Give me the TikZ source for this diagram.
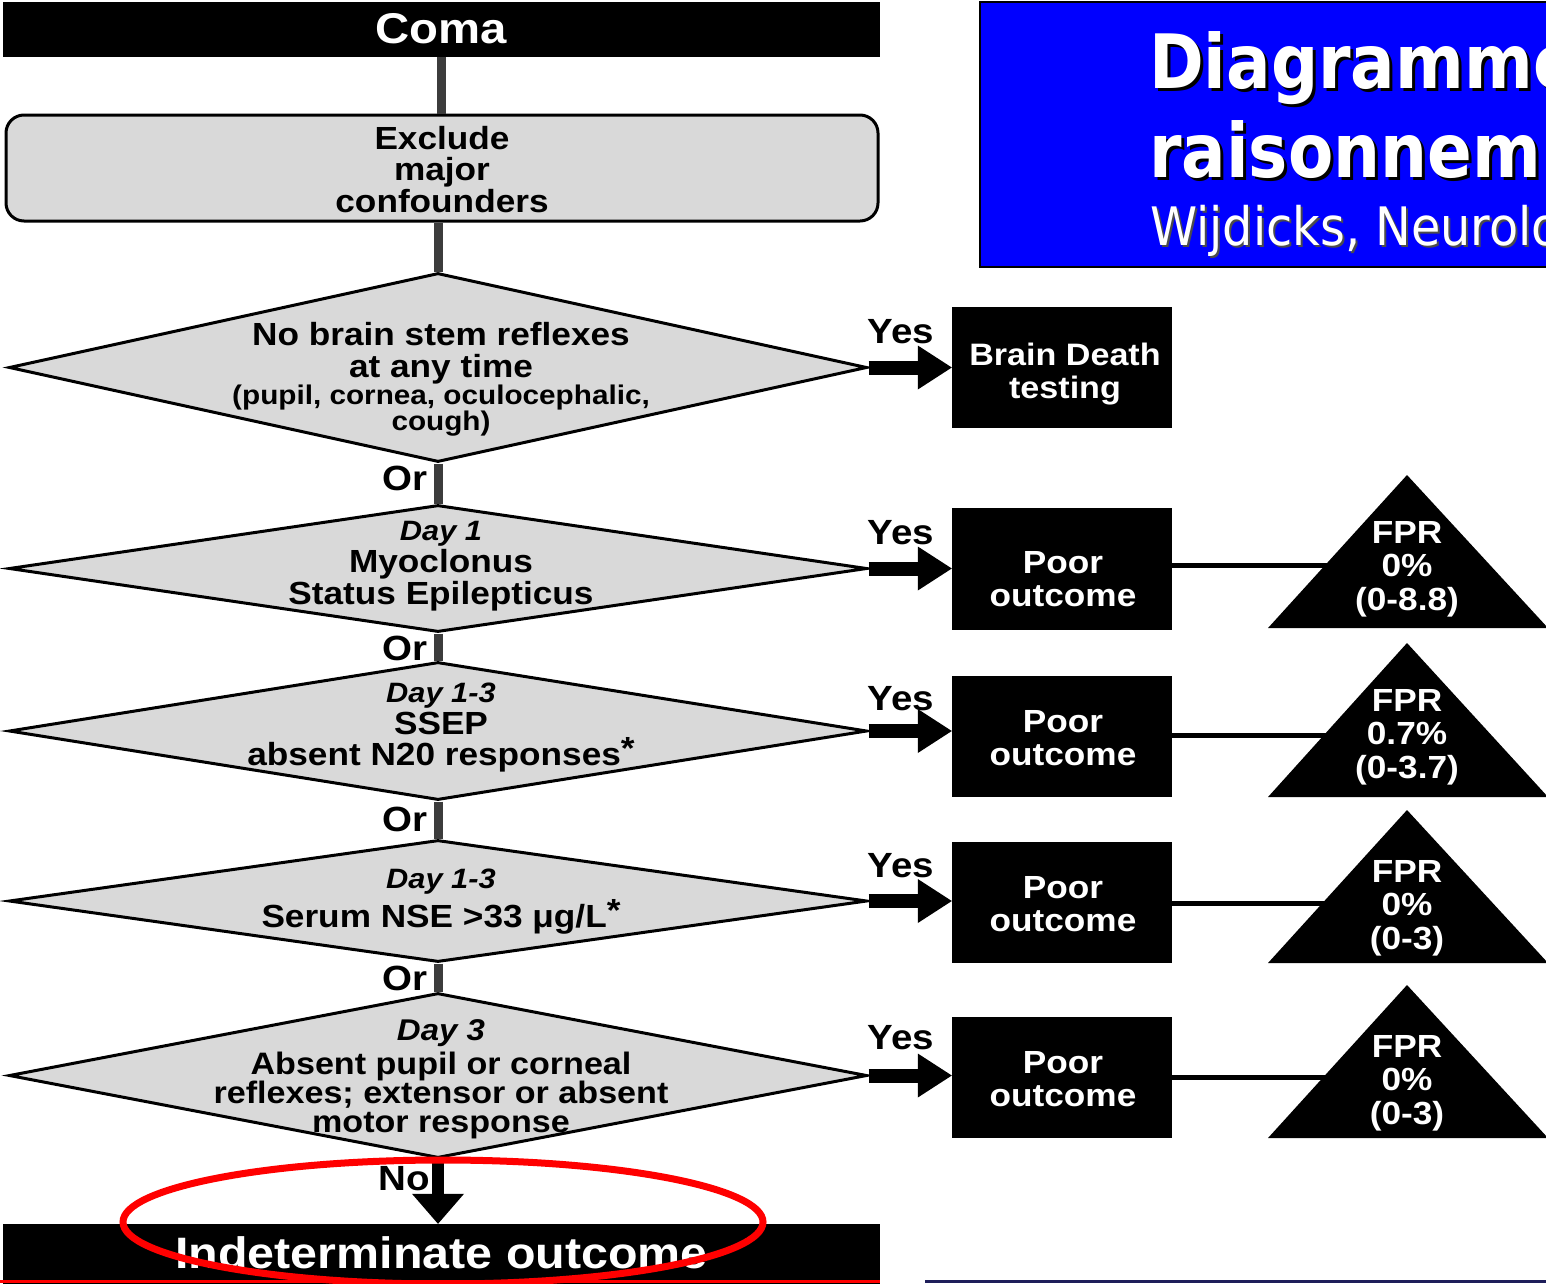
\documentclass[tikz,border=0pt]{standalone}
\usepackage{fontspec}
\newfontfamily\cf{Liberation Sans}[FakeStretch=1.1]
\newfontfamily\tfont{DejaVu Sans}[FakeStretch=0.88]
\newfontfamily\subfont{DejaVu Sans}[FakeStretch=0.9]
\newcommand\setfs[2]{\fontsize{#1}{#2}\selectfont}
\usetikzlibrary{shapes.geometric,arrows.meta}
\definecolor{diafill}{RGB}{217,217,217}
\definecolor{vgray}{RGB}{60,60,60}
\definecolor{titleblue}{RGB}{0,0,255}
\definecolor{navy}{RGB}{30,30,90}
\begin{document}
\begin{tikzpicture}[x=1pt,y=-1pt,
  blk/.style={fill=black, draw=none, inner sep=0pt},
  dia/.style={diamond, draw=black, line width=3pt, fill=diafill, inner sep=0pt, minimum width=858pt},
  lab/.style={inner sep=0pt, font=\cf\bfseries, align=center, anchor=base},
  wlab/.style={lab, text=white},
  vline/.style={line width=9pt, draw=vgray},
  yesarrow/.style={line width=14pt, draw=black, -{Triangle[length=34pt,width=44pt,line width=0pt 0]}},
  noarrow/.style={line width=12pt, draw=black, -{Triangle[length=30pt,width=52pt,line width=0pt 0]}},
  hline/.style={line width=5pt, draw=black},
  tri/.style={fill=black},
]
\useasboundingbox (0,0) rectangle (1546,1283);

% ---------------- title box ----------------
\fill[titleblue, draw=black, line width=2pt] (980,2) rectangle (1570,267);
\begin{scope}
\clip (981,3) rectangle (1546,266);
\node[anchor=base west, inner sep=0pt, text=black, font=\tfont\bfseries\setfs{75}{75}] at (1152,91) {Diagramme};
\node[anchor=base west, inner sep=0pt, text=white, font=\tfont\bfseries\setfs{75}{75}] (title1) at (1149,88) {Diagramme};
\node[anchor=base west, inner sep=0pt, text=black, font=\tfont\bfseries\setfs{75}{75}] at (1152,180) {raisonnem};
\node[anchor=base west, inner sep=0pt, text=white, font=\tfont\bfseries\setfs{75}{75}] (title2) at (1149,177) {raisonnem};
\node[anchor=base west, inner sep=0pt, text=black!70, font=\subfont\setfs{53}{53}] at (1152,247) {Wijdicks, Neurolo};
\node[anchor=base west, inner sep=0pt, text=white, font=\subfont\setfs{53}{53}] (title3) at (1150,245) {Wijdicks, Neurolo};
\end{scope}

% ---------------- left column ----------------
\node[blk, minimum width=877pt, minimum height=55pt] (coma) at (441.5,29.5) {};
\node[wlab, font=\cf\bfseries\setfs{43}{43}] (comat) at (441.5,43.5) {Coma};

\node[rounded corners=18pt, draw=black, line width=3pt, fill=diafill, minimum width=872pt, minimum height=106pt, inner sep=0pt] (excl) at (442,168) {};
\node[lab, font=\cf\bfseries\setfs{32}{31.5}] (exclt) at (442,212) {Exclude\\major\\confounders};

\node[dia, minimum height=189pt] (d1) at (438,367.5) {};
\node[lab, font=\cf\bfseries\setfs{32}{32}] (d1a) at (441,377) {No brain stem reflexes\\at any time};
\node[lab, font=\cf\bfseries\setfs{27}{26}] (d1b) at (441,430) {(pupil, cornea, oculocephalic,\\cough)};

\node[dia, minimum height=127pt] (d2) at (438,568.5) {};
\node[lab, font=\cf\bfseries\itshape\setfs{28}{28}] (d2a) at (441,540) {Day 1};
\node[lab, font=\cf\bfseries\setfs{32}{31.5}] (d2b) at (441,604) {Myoclonus\\Status Epilepticus};

\node[dia, minimum height=138pt] (d3) at (438,731) {};
\node[lab, font=\cf\bfseries\itshape\setfs{28}{28}] (d3a) at (441,702) {Day 1-3};
\node[lab, font=\cf\bfseries\setfs{32}{31}] (d3b) at (441,765.5) {SSEP\\absent N20 responses\raisebox{6pt}{*}};

\node[dia, minimum height=122pt] (d4) at (438,901) {};
\node[lab, font=\cf\bfseries\itshape\setfs{28}{28}] (d4a) at (441,888) {Day 1-3};
\node[lab, font=\cf\bfseries\setfs{32}{32}] (d4b) at (441,927.5) {Serum NSE >33 μg/L\raisebox{6pt}{*}};

\node[dia, minimum height=165pt] (d5) at (438,1075.5) {};
\node[lab, font=\cf\bfseries\itshape\setfs{30}{30}] (d5a) at (441,1040) {Day 3};
\node[lab, font=\cf\bfseries\setfs{31}{29}] (d5b) at (441,1132.5) {Absent pupil or corneal\\reflexes; extensor or absent\\motor response};

\node[blk, minimum width=877pt, minimum height=62pt] (ind) at (441.5,1255) {};
\node[wlab, font=\cf\bfseries\setfs{44}{44}] (indt) at (441.5,1268) {Indeterminate outcome};

% vertical connectors
\draw[vline] (coma.south) -- (excl.north -| coma.south);
\draw[vline] (excl.south -| d1.north) -- (d1.north);
\draw[vline] (d1.south) -- (d2.north);
\draw[vline] (d2.south) -- (d3.north);
\draw[vline] (d3.south) -- (d4.north);
\draw[vline] (d4.south) -- (d5.north);
\draw[noarrow] (d5.south) -- (d5.south |- ind.north);

% Or / No labels
\node[lab, anchor=base east, font=\cf\bfseries\setfs{35}{35}] (or1) at (428,490) {Or};
\node[lab, anchor=base east, font=\cf\bfseries\setfs{35}{35}] (or2) at (428,660) {Or};
\node[lab, anchor=base east, font=\cf\bfseries\setfs{35}{35}] (or3) at (428,831) {Or};
\node[lab, anchor=base east, font=\cf\bfseries\setfs{35}{35}] (or4) at (428,990) {Or};
\node[lab, anchor=base east, font=\cf\bfseries\setfs{35}{35}] (no) at (430,1190) {No};

% ---------------- right column ----------------
\node[blk, minimum width=220pt, minimum height=121pt] (bd) at (1062,367.5) {};
\node[wlab, font=\cf\bfseries\setfs{31}{33}] (bdt) at (1065,398.5) {Brain Death\\testing};

\node[blk, minimum width=220pt, minimum height=122pt] (p2) at (1062,569) {};
\node[wlab, font=\cf\bfseries\setfs{32}{33}] (p2t) at (1063,606) {Poor\\outcome};
\node[blk, minimum width=220pt, minimum height=121pt] (p3) at (1062,736.5) {};
\node[wlab, font=\cf\bfseries\setfs{32}{33}] (p3t) at (1063,765) {Poor\\outcome};
\node[blk, minimum width=220pt, minimum height=121pt] (p4) at (1062,902.5) {};
\node[wlab, font=\cf\bfseries\setfs{32}{33}] (p4t) at (1063,931) {Poor\\outcome};
\node[blk, minimum width=220pt, minimum height=121pt] (p5) at (1062,1077.5) {};
\node[wlab, font=\cf\bfseries\setfs{32}{33}] (p5t) at (1063,1106) {Poor\\outcome};

% yes arrows
\draw[yesarrow] (d1.east) -- (bd.west);
\draw[yesarrow] (d2.east) -- (d2.east -| p2.west);
\draw[yesarrow] (d3.east) -- (d3.east -| p3.west);
\draw[yesarrow] (d4.east) -- (d4.east -| p4.west);
\draw[yesarrow] (d5.east) -- (d5.east -| p5.west);
\node[lab, font=\cf\bfseries\setfs{35}{35}] (y1) at (901,343) {Yes};
\node[lab, font=\cf\bfseries\setfs{35}{35}] (y2) at (901,544) {Yes};
\node[lab, font=\cf\bfseries\setfs{35}{35}] (y3) at (901,710) {Yes};
\node[lab, font=\cf\bfseries\setfs{35}{35}] (y4) at (901,877) {Yes};
\node[lab, font=\cf\bfseries\setfs{35}{35}] (y5) at (901,1049) {Yes};

% triangles
\coordinate (t2) at (1407,565);
\coordinate (t3) at (1407,735);
\coordinate (t4) at (1407,903);
\coordinate (t5) at (1407,1077);
\draw[hline] (p2.east |- t2) -- (t2);
\draw[hline] (p3.east |- t3) -- (t3);
\draw[hline] (p4.east |- t4) -- (t4);
\draw[hline] (p5.east |- t5) -- (t5);
\fill[tri] (1268,628) -- (1407,475) -- (1548,628) -- cycle;
\fill[tri] (1268,797) -- (1407,643) -- (1548,797) -- cycle;
\fill[tri] (1268,963) -- (1407,810) -- (1548,963) -- cycle;
\fill[tri] (1268,1138) -- (1407,985) -- (1548,1138) -- cycle;
\node[wlab, font=\cf\bfseries\setfs{32}{33.5}] (f2) at (1407,610) {FPR\\0\%\\(0-8.8)};
\node[wlab, font=\cf\bfseries\setfs{32}{33.5}] (f3) at (1407,778) {FPR\\0.7\%\\(0-3.7)};
\node[wlab, font=\cf\bfseries\setfs{32}{33.5}] (f4) at (1407,949) {FPR\\0\%\\(0-3)};
\node[wlab, font=\cf\bfseries\setfs{32}{33.5}] (f5) at (1407,1124) {FPR\\0\%\\(0-3)};

% bottom edge lines
\draw[red, line width=3pt] (0,1281.5) -- (880,1281.5);
\draw[navy, line width=3pt] (925,1281.5) -- (1546,1281.5);

% red ellipse
\draw[red, line width=7pt] (443,1222) ellipse [x radius=320pt, y radius=62pt];
\end{tikzpicture}
\end{document}
